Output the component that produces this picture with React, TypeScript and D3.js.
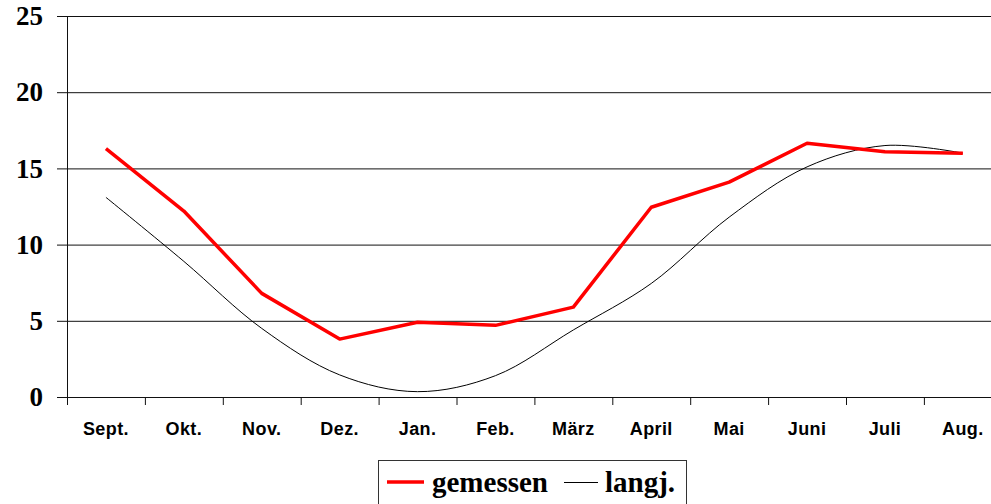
import React, { useEffect, useRef } from "react";
import * as d3 from "d3";

const months = ["Sept.", "Okt.", "Nov.", "Dez.", "Jan.", "Feb.", "März", "April", "Mai", "Juni", "Juli", "Aug."];
const gemessen = [16.3, 12.2, 6.8, 3.8, 4.9, 4.7, 5.9, 12.45, 14.1, 16.65, 16.1, 16.0];
const langj = [13.1, 8.9, 4.5, 1.45, 0.35, 1.4, 4.4, 7.45, 11.8, 15.1, 16.5, 16.0];
const yTicks = [0, 5, 10, 15, 20, 25];

const W = 991;
const H = 504;

const App = () => {
  const svgRef = useRef<SVGSVGElement | null>(null);

  useEffect(() => {
    const svg = d3.select(svgRef.current);
    svg.selectAll("*").remove();

    const left = 67;
    const x = d3.scaleBand().domain(months).range([left, left + 12 * 77.9]);
    const y = d3.scaleLinear().domain([0, 25]).range([397, 16]);

    // gridlines
    svg
      .append("g")
      .selectAll("line")
      .data(yTicks)
      .enter()
      .append("line")
      .attr("x1", 57)
      .attr("x2", W)
      .attr("y1", (d) => y(d) + 0.5)
      .attr("y2", (d) => y(d) + 0.5)
      .attr("stroke", "#111")
      .attr("stroke-width", 1);

    // y axis line
    svg
      .append("line")
      .attr("x1", left + 0.5)
      .attr("x2", left + 0.5)
      .attr("y1", y(25))
      .attr("y2", y(0) + 8)
      .attr("stroke", "#111");

    // x ticks at band edges
    svg
      .append("g")
      .selectAll("line")
      .data(months)
      .enter()
      .append("line")
      .attr("x1", (d) => (x(d) as number) + 0.5)
      .attr("x2", (d) => (x(d) as number) + 0.5)
      .attr("y1", y(0))
      .attr("y2", y(0) + 8)
      .attr("stroke", "#111");

    // y labels
    svg
      .append("g")
      .selectAll("text")
      .data(yTicks)
      .enter()
      .append("text")
      .attr("x", 43)
      .attr("y", (d) => y(d))
      .attr("dy", "0.34em")
      .attr("text-anchor", "end")
      .attr("font-family", "Liberation Serif, Times New Roman, serif")
      .attr("font-weight", "bold")
      .attr("font-size", 27)
      .text((d) => d);

    // x labels
    svg
      .append("g")
      .selectAll("text")
      .data(months)
      .enter()
      .append("text")
      .attr("x", (d) => (x(d) as number) + x.bandwidth() / 2)
      .attr("y", 435)
      .attr("text-anchor", "middle")
      .attr("font-family", "Liberation Sans, Arial, sans-serif")
      .attr("font-weight", "bold")
      .attr("font-size", 18)
      .attr("letter-spacing", 0.4)
      .text((d) => d);

    const cx = (i: number) => (x(months[i]) as number) + x.bandwidth() / 2;

    const smooth = d3
      .line<number>()
      .x((_, i) => cx(i))
      .y((d) => y(d))
      .curve(d3.curveCatmullRom.alpha(0.5));

    const straight = d3
      .line<number>()
      .x((_, i) => cx(i))
      .y((d) => y(d));

    svg
      .append("path")
      .datum(langj)
      .attr("d", smooth)
      .attr("fill", "none")
      .attr("stroke", "#000")
      .attr("stroke-width", 1);

    svg
      .append("path")
      .datum(gemessen)
      .attr("d", straight)
      .attr("fill", "none")
      .attr("stroke", "#ff0000")
      .attr("stroke-width", 3.5)
      .attr("stroke-linejoin", "round");

    // legend
    const lg = svg.append("g");
    lg.append("rect")
      .attr("x", 378.5)
      .attr("y", 460.5)
      .attr("width", 308)
      .attr("height", 60)
      .attr("fill", "#fff")
      .attr("stroke", "#333");
    lg.append("line")
      .attr("x1", 387)
      .attr("x2", 424)
      .attr("y1", 482)
      .attr("y2", 482)
      .attr("stroke", "#ff0000")
      .attr("stroke-width", 3.5);
    lg.append("text")
      .attr("x", 432)
      .attr("y", 492)
      .attr("font-family", "Liberation Serif, Times New Roman, serif")
      .attr("font-weight", "bold")
      .attr("font-size", 29)
      .text("gemessen");
    lg.append("line")
      .attr("x1", 564)
      .attr("x2", 598)
      .attr("y1", 482.5)
      .attr("y2", 482.5)
      .attr("stroke", "#000")
      .attr("stroke-width", 1);
    lg.append("text")
      .attr("x", 605)
      .attr("y", 492)
      .attr("font-family", "Liberation Serif, Times New Roman, serif")
      .attr("font-weight", "bold")
      .attr("font-size", 29)
      .text("langj.");
  }, []);

  return (
    <svg
      ref={svgRef}
      width={W}
      height={H}
      style={{ position: "absolute", left: 0, top: 0, background: "#fff" }}
    />
  );
};

export default App;
